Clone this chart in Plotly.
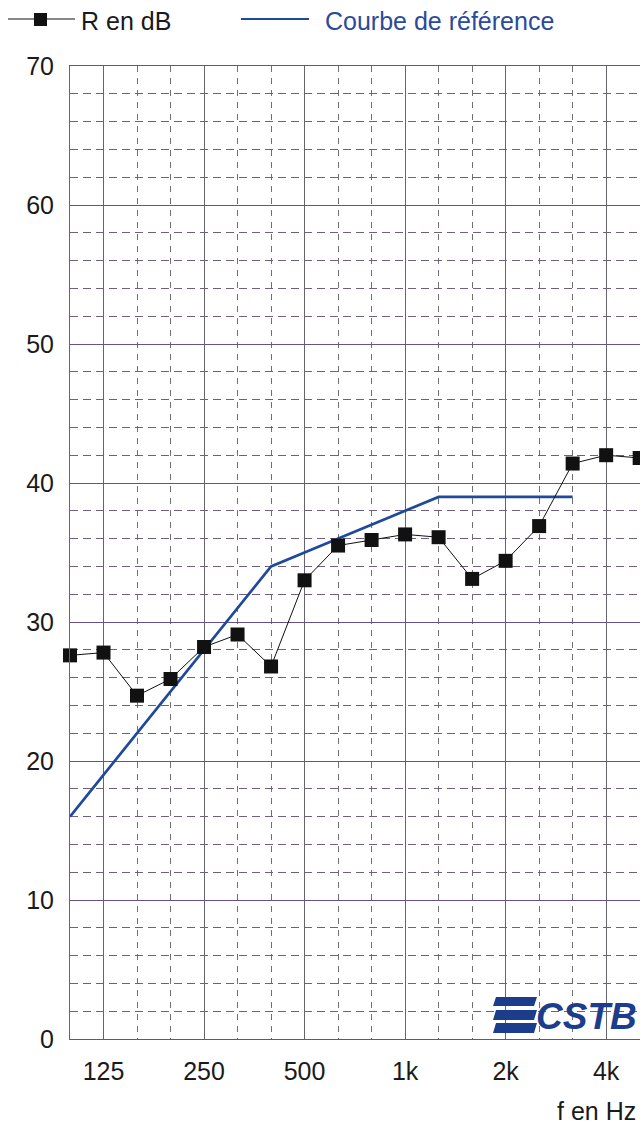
import plotly.graph_objects as go

# ---- data ----
freqs = ["100", "125", "160", "200", "250", "315", "400", "500", "630", "800",
         "1000", "1250", "1600", "2000", "2500", "3150", "4000", "5000"]
r_db = [27.6, 27.8, 24.7, 25.9, 28.2, 29.1, 26.8, 33.0, 35.5, 35.9,
        36.3, 36.1, 33.1, 34.4, 36.9, 41.4, 42.0, 41.8]
ref_freqs = ["100", "125", "160", "200", "250", "315", "400", "500", "630", "800",
             "1000", "1250", "1600", "2000", "2500", "3150"]
ref_db = [16, 19, 22, 25, 28, 31, 34, 35, 36, 37, 38, 39, 39, 39, 39, 39]
tick_freqs = ["125", "250", "500", "1000", "2000", "4000"]
tick_labels = ["125", "250", "500", "1k", "2k", "4k"]
y_ticks = [0, 10, 20, 30, 40, 50, 60, 70]

FONT = "Liberation Sans, Arial, sans-serif"
HGRID = "#6a5088"
VGRID = "#67646e"
HDASH = "#6f6080"
VDASH = "#707070"
BLUE = "#1f4a9c"
TXTBLUE = "#2b4a9a"

W, H = 640, 1126
L, R, T, B = 70, 0, 66, 87
PW, PH = W - L - R, H - T - B


def px(x):
    return (x - L) / PW


def py(y):
    return (H - B - y) / PH


x_r = [freqs.index(f) for f in freqs]
x_ref = [freqs.index(f) for f in ref_freqs]
major_x = [freqs.index(f) for f in tick_freqs]
minor_x = [i for i in range(1, len(freqs)) if i not in major_x]

fig = go.Figure()
fig.add_trace(go.Scatter(
    x=x_ref, y=ref_db, mode="lines",
    line=dict(color=BLUE, width=2.7), name="Courbe de référence",
    showlegend=False, cliponaxis=False))
fig.add_trace(go.Scatter(
    x=x_r, y=r_db, mode="lines+markers",
    line=dict(color="#111111", width=1),
    marker=dict(symbol="square", size=14, color="#111111"),
    name="R en dB", showlegend=False, cliponaxis=False))

fig.update_layout(
    width=W, height=H,
    margin=dict(l=L, r=R, t=T, b=B, pad=0),
    paper_bgcolor="white", plot_bgcolor="white",
    font=dict(family=FONT, size=25, color="#1a1a1a"),
    hovermode=False,
    xaxis=dict(
        range=[0, 17.01], tickmode="array", tickvals=major_x, ticktext=tick_labels,
        showgrid=True, gridcolor=VGRID, gridwidth=1,
        minor=dict(tickvals=minor_x, showgrid=True, gridcolor=VDASH,
                   griddash="6px,6px", gridwidth=1),
        showline=True, linecolor=HGRID, linewidth=1, mirror=True,
        zeroline=False, ticks="", ticklabelstandoff=10,
        tickfont=dict(family=FONT, size=25, color="#1a1a1a"),
    ),
    yaxis=dict(
        range=[0, 70], tickmode="array", tickvals=y_ticks,
        showgrid=True, gridcolor=HGRID, gridwidth=1,
        minor=dict(dtick=2, showgrid=True, gridcolor=HDASH,
                   griddash="8px,5px", gridwidth=1),
        showline=True, linecolor=VGRID, linewidth=1,
        zeroline=False, ticks="", ticklabelstandoff=10,
        tickfont=dict(family=FONT, size=25, color="#1a1a1a"),
    ),
)

shapes = []
annotations = []
# legend (manual)
shapes.append(dict(type="line", xref="paper", yref="paper",
                   x0=px(8), x1=px(75), y0=py(19), y1=py(19),
                   line=dict(color="#111111", width=1)))
shapes.append(dict(type="rect", xref="paper", yref="paper",
                   x0=px(34), x1=px(47), y0=py(26), y1=py(13),
                   fillcolor="#111111", line=dict(width=0)))
annotations.append(dict(xref="paper", yref="paper", x=px(79), y=py(21),
                        xanchor="left", yanchor="middle", showarrow=False,
                        text="R en dB", font=dict(family=FONT, size=25, color="#1a1a1a")))
shapes.append(dict(type="line", xref="paper", yref="paper",
                   x0=px(241), x1=px(309), y0=py(19), y1=py(19),
                   line=dict(color=BLUE, width=2)))
annotations.append(dict(xref="paper", yref="paper", x=px(323), y=py(21),
                        xanchor="left", yanchor="middle", showarrow=False,
                        text="Courbe de référence",
                        font=dict(family=FONT, size=25, color=TXTBLUE)))
# axis title
annotations.append(dict(xref="paper", yref="paper", x=px(638), y=py(1111),
                        xanchor="right", yanchor="middle", showarrow=False,
                        text="f en Hz", font=dict(family=FONT, size=25, color="#1a1a1a")))
# CSTB logo
LOGO = "#1c3d8c"
for (y0, y1) in [(997, 1006), (1010, 1020), (1023, 1033)]:
    shapes.append(dict(type="path", xref="paper", yref="paper",
                       path=f"M {px(496)},{py(y0)} L {px(537)},{py(y0)} L {px(534)},{py(y1)} L {px(493)},{py(y1)} Z",
                       fillcolor=LOGO, line=dict(width=0)))
annotations.append(dict(xref="paper", yref="paper", x=px(639), y=py(1016),
                        xanchor="right", yanchor="middle", showarrow=False,
                        text="<b><i>CSTB</i></b>",
                        font=dict(family="Liberation Sans, Arial", size=37, color=LOGO)))

fig.update_layout(shapes=shapes, annotations=annotations)
fig.write_html(
    "out.html",
    config={"displayModeBar": False},
    post_script="document.body.style.margin='0';document.body.style.overflow='hidden';",
)
